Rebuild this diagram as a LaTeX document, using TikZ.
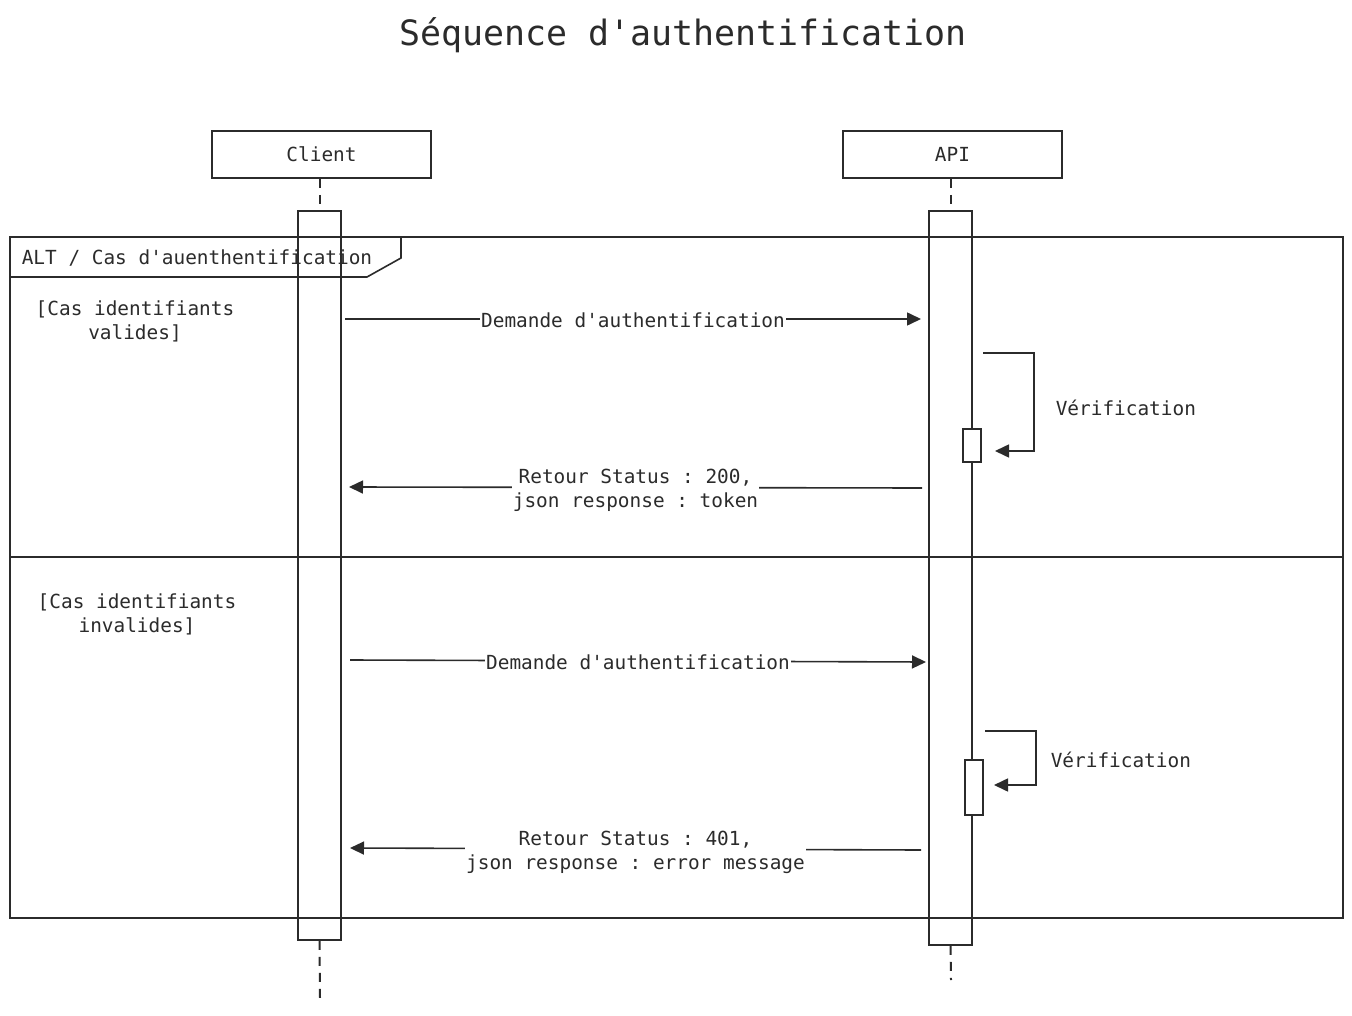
\documentclass[tikz,border=0pt]{standalone}
\usepackage{fontspec}
\setmonofont{DejaVu Sans Mono}
\usetikzlibrary{arrows.meta}
\definecolor{ink}{HTML}{2B2B2B}
\begin{document}
\begin{tikzpicture}[x=1pt,y=-1pt,line width=1.6pt,draw=ink,
  every node/.style={text=ink,font=\ttfamily\fontsize{19.4}{24}\selectfont},
  headbox/.style={draw=ink,minimum width=219pt,minimum height=47pt,inner sep=0pt},
  actbar/.style={draw=ink,minimum width=43pt,inner sep=0pt},
  selfbox/.style={draw=ink,fill=white,minimum width=18pt,inner sep=0pt},
  lifeline/.style={draw=ink,line width=2pt,dash pattern=on 9pt off 7pt},
  msg/.style={draw=ink,-{Triangle[length=14pt,width=13pt]}},
  lbl/.style={fill=white,inner xsep=1pt,inner ysep=0pt,align=center},
  plain/.style={inner sep=0pt}]
\useasboundingbox[fill=white] (0,0) rectangle (1352,1016);

% title
\node[font=\ttfamily\fontsize{34.9}{40}\selectfont] (title) at (683,35) {Séquence d'authentification};

% participants
\node[headbox] (client) at (321.5,154.5) {Client};
\node[headbox] (api) at (952.5,154.5) {API};

% activation bars
\node[actbar,minimum height=729pt] (clientact) at (319.5,575.5) {};
\node[actbar,minimum height=734pt] (apiact) at (950.5,578) {};

% lifelines
\coordinate (clientend) at (320,998);
\coordinate (apiend) at (951,980);
\draw[lifeline] (client.south -| clientact.north) -- (clientact.north);
\draw[lifeline] (clientact.south) -- (clientend);
\draw[lifeline] (api.south -| apiact.north) -- (apiact.north);
\draw[lifeline] (apiact.south) -- (apiend);

% alt frame
\node[draw=ink,minimum width=1333pt,minimum height=681pt,inner sep=0pt] (alt) at (676.5,577.5) {};
\draw (10,277) -- (367,277) -- (401,258) -- (401,237);
\node[plain,anchor=west] (altlabel) at (21,258) {ALT / Cas d'auenthentification};
\coordinate (divL) at (10,557);
\coordinate (divR) at (1343,557);
\draw (divL) -- (divR);

% guards
\node[plain,align=center] (guard1) at (135,321) {[Cas identifiants\\valides]};
\node[plain,align=center] (guard2) at (137,614) {[Cas identifiants\\invalides]};

% self-call boxes
\node[selfbox,minimum height=33pt] (self1) at (972,445.5) {};
\node[selfbox,minimum height=55pt] (self2) at (974,787.5) {};

% case 1
\coordinate (m1s) at (345,319);
\coordinate (m1e) at (921,319);
\draw[msg] (m1s) -- node[lbl,yshift=-1pt] (m1l) {Demande d'authentification} (m1e);

\coordinate (l1s) at (983,353);
\coordinate (l1e) at (995,451);
\draw[msg] (l1s) -- (1034,353) |- (l1e);
\node[plain,anchor=west] (v1) at (1055,408) {Vérification};

\coordinate (r1s) at (922,488);
\coordinate (r1e) at (349,487);
\draw[msg] (r1s) -- node[lbl,yshift=-3pt] (r1l) {Retour Status : 200,\\json response : token} (r1e);

% case 2
\coordinate (m2s) at (350,660);
\coordinate (m2e) at (926,662);
\draw[msg] (m2s) -- node[lbl,yshift=-1pt] (m2l) {Demande d'authentification} (m2e);

\coordinate (l2s) at (985,731);
\coordinate (l2e) at (994,785);
\draw[msg] (l2s) -- (1036,731) |- (l2e);
\node[plain,anchor=west] (v2) at (1050,760) {Vérification};

\coordinate (r2s) at (921,850);
\coordinate (r2e) at (350,848);
\draw[msg] (r2s) -- node[lbl,yshift=-3pt] (r2l) {Retour Status : 401,\\json response : error message} (r2e);
\end{tikzpicture}
\end{document}
